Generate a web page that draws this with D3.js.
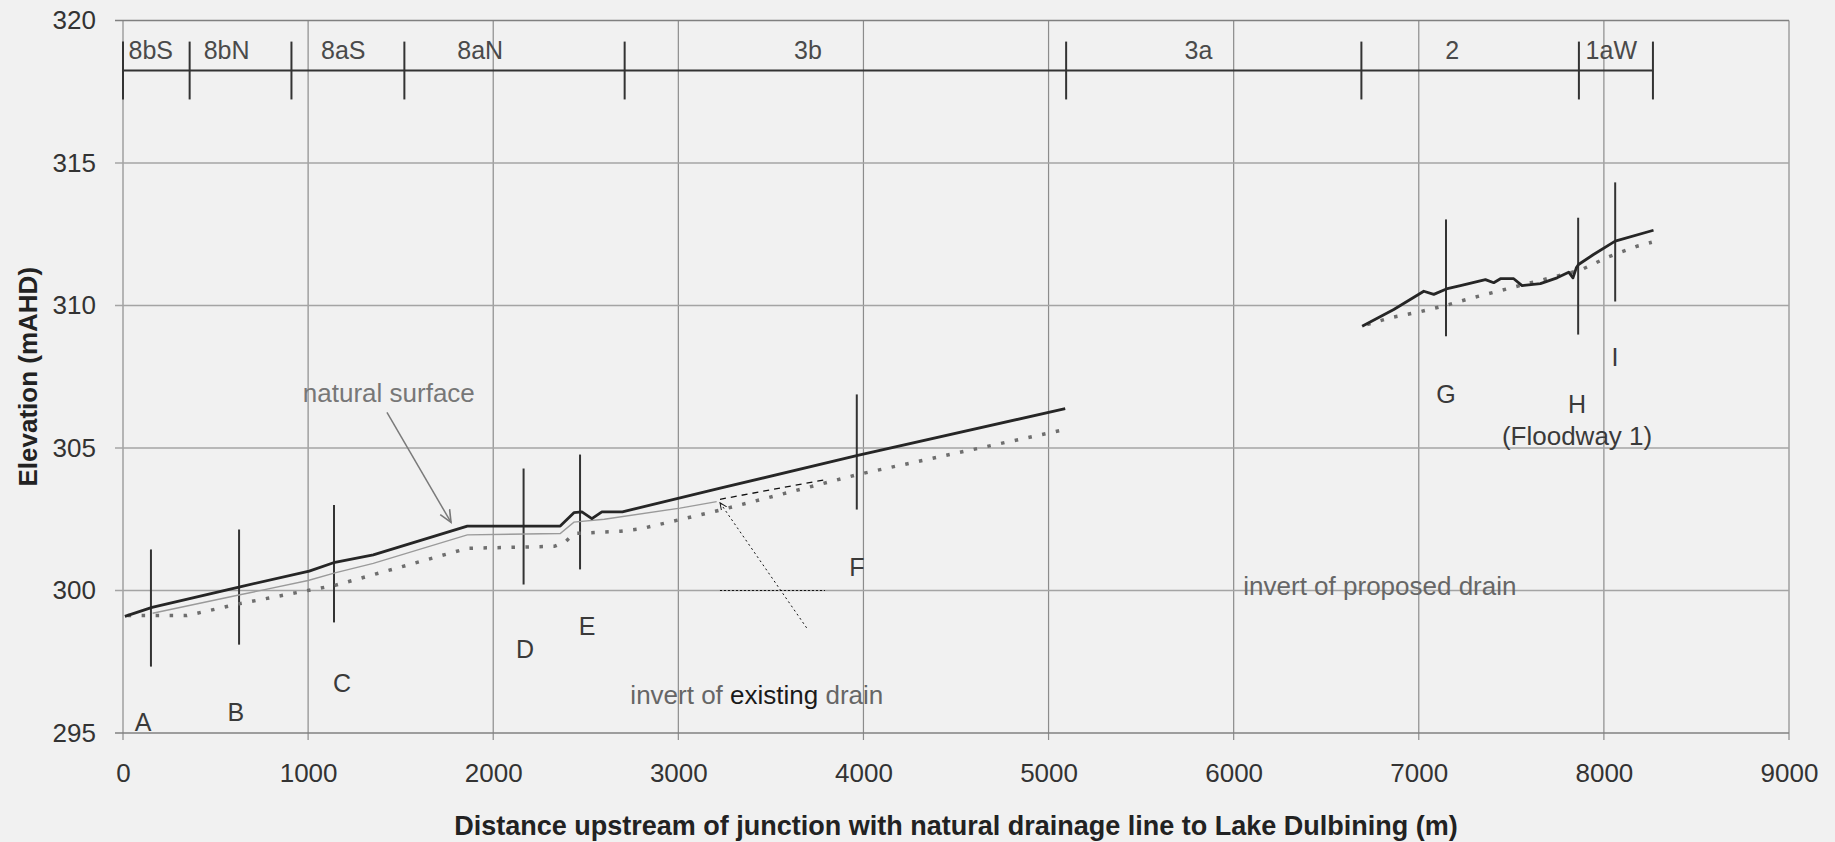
<!DOCTYPE html>
<html lang="en">
<head>
<meta charset="UTF-8">
<title>Drain long section</title>
<script src="https://d3js.org/d3.v7.min.js"></script>
<style>
  html, body { margin: 0; padding: 0; background: #f1f1f1; }
  svg { display: block; font-family: "Liberation Sans", Arial, sans-serif; }
</style>
</head>
<body>
<svg id="chart" width="1835" height="842"></svg>
<script>
const xTicks = [0, 1000, 2000, 3000, 4000, 5000, 6000, 7000, 8000, 9000];
const yTicks = [295, 300, 305, 310, 315, 320];

// drainage sections along the top bar
const sectionBounds = [0, 360, 910, 1520, 2710, 5095, 6690, 7865, 8265];
const sectionNames = ["8bS", "8bN", "8aS", "8aN", "3b", "3a", "2", "1aW"];
const sectionLabelX = [150, 560, 1190, 1930, 3700, 5810, 7180, 8040];

// top of bank / surface (solid), null breaks the line
const surface = [
  [10, 299.09], [157, 299.41], [632, 300.13], [1006, 300.68], [1145, 300.99],
  [1352, 301.25], [1860, 302.26], [2362, 302.26], [2436, 302.73], [2479, 302.76],
  [2533, 302.52], [2587, 302.76], [2698, 302.76], [3232, 303.6], [3969, 304.74],
  [5090, 306.38],
  [5900, null],
  [6694, 309.27], [6865, 309.86], [7027, 310.5], [7081, 310.39], [7149, 310.58],
  [7225, 310.7], [7360, 310.91], [7405, 310.8], [7441, 310.94], [7513, 310.94],
  [7558, 310.7], [7657, 310.77], [7747, 310.97], [7810, 311.17], [7833, 310.97],
  [7851, 311.32], [7863, 311.44], [7944, 311.79], [8061, 312.26], [8268, 312.64]
];

// natural surface (thin grey)
const natural = [
  [160, 299.2], [632, 299.85], [1000, 300.35], [1145, 300.62], [1352, 300.95],
  [1860, 301.95], [2362, 302.0], [2436, 302.4], [2600, 302.5], [3009, 302.89],
  [3207, 303.12]
];

// drain invert (dotted)
const invert = [
  [25, 299.12], [344, 299.12], [632, 299.54], [1006, 300.01], [1145, 300.18],
  [1476, 300.78], [1860, 301.48], [2330, 301.55], [2394, 301.73], [2437, 302.0],
  [2689, 302.08], [2794, 302.16], [3200, 302.78], [3969, 304.07], [5090, 305.65],
  [5900, null],
  [6721, 309.33], [6847, 309.57], [7000, 309.77], [7144, 310.0], [7279, 310.25],
  [7486, 310.6], [7873, 311.24], [8025, 311.71], [8179, 312.08], [8259, 312.22]
];

// cross-section markers
const markerNames = ["A", "B", "C", "D", "E", "F", "G", "H", "I"];
const markerX = [151, 627, 1140, 2164, 2469, 3964, 7147, 7861, 8061];
const markerTop = [301.44, 302.14, 303.0, 304.28, 304.77, 306.88, 313.02, 313.08, 314.32];
const markerBottom = [297.33, 298.1, 298.88, 300.21, 300.74, 302.84, 308.92, 308.98, 310.14];
const markerLabelX = [108, 610, 1183, 2172, 2507, 3964, 7147, 7855, 8060];
const markerLabelY = [295.4, 295.72, 296.77, 297.93, 298.74, 300.84, 306.91, 306.56, 308.21];

const svg = d3.select("#chart");
const W = 1835, H = 842;
const margin = { top: 20.5, right: 46, bottom: 109, left: 123 };

const x = d3.scaleLinear().domain([0, 9000]).range([margin.left, W - margin.right]);
const y = d3.scaleLinear().domain([295, 320]).range([H - margin.bottom, margin.top]);

svg.append("rect").attr("width", W).attr("height", H).attr("fill", "#f1f1f1");

// gridlines
const grid = svg.append("g");
grid.selectAll("line.v").data(xTicks).join("line")
  .attr("x1", d => x(d)).attr("x2", d => x(d))
  .attr("y1", y(320)).attr("y2", y(295) + 7)
  .attr("stroke", "#8c8c8c").attr("stroke-width", 1.2);
grid.selectAll("line.h").data(yTicks).join("line")
  .attr("x1", x(0) - 8).attr("x2", x(9000))
  .attr("y1", d => y(d)).attr("y2", d => y(d))
  .attr("stroke", d => (d === 295 || d === 320) ? "#808080" : "#a4a4a4")
  .attr("stroke-width", 1.3);

// axes labels
const yAxis = d3.axisLeft(y).tickValues(yTicks).tickSize(0).tickPadding(0);
svg.append("g").attr("transform", `translate(${x(0) - 27},0)`).call(yAxis)
  .call(g => g.select(".domain").remove())
  .selectAll("text").attr("font-size", 26).attr("fill", "#333")
  .attr("font-family", "Liberation Sans, Arial, sans-serif");

const xAxis = d3.axisBottom(x).tickValues(xTicks).tickSize(0).tickPadding(0).tickFormat(d3.format("d"));
svg.append("g").attr("transform", `translate(0,${y(295) + 31})`).call(xAxis)
  .call(g => g.select(".domain").remove())
  .selectAll("text").attr("font-size", 26).attr("fill", "#333")
  .attr("font-family", "Liberation Sans, Arial, sans-serif");

// axis titles
svg.append("text")
  .attr("transform", `translate(28,${(y(295) + y(320)) / 2}) rotate(-90)`)
  .attr("text-anchor", "middle").attr("dy", "0.36em")
  .attr("font-size", 26).attr("font-weight", "bold").attr("fill", "#222")
  .text("Elevation (mAHD)");
svg.append("text")
  .attr("x", (x(0) + x(9000)) / 2).attr("y", 835)
  .attr("text-anchor", "middle")
  .attr("font-size", 27).attr("font-weight", "bold").attr("fill", "#222")
  .text("Distance upstream of junction with natural drainage line to Lake Dulbining (m)");

// section bar at the top
const barY = 318.25;
const bar = svg.append("g").attr("stroke", "#333").attr("stroke-width", 2);
bar.append("line")
  .attr("x1", x(sectionBounds[0])).attr("x2", x(sectionBounds[sectionBounds.length - 1]))
  .attr("y1", y(barY)).attr("y2", y(barY));
bar.selectAll("line.tick").data(sectionBounds).join("line")
  .attr("x1", d => x(d)).attr("x2", d => x(d))
  .attr("y1", y(319.26)).attr("y2", y(317.23));
svg.append("g").selectAll("text").data(sectionNames).join("text")
  .attr("x", (d, i) => x(sectionLabelX[i]))
  .attr("y", y(318.95))
  .attr("dy", "0.36em")
  .attr("text-anchor", "middle")
  .attr("font-size", 25).attr("fill", "#4a4a4a")
  .text(d => d);

// marker verticals
svg.append("g").selectAll("line").data(markerNames).join("line")
  .attr("x1", (d, i) => x(markerX[i])).attr("x2", (d, i) => x(markerX[i]))
  .attr("y1", (d, i) => y(markerTop[i])).attr("y2", (d, i) => y(markerBottom[i]))
  .attr("stroke", "#333").attr("stroke-width", 2);

const line = d3.line()
  .defined(d => d[1] != null)
  .x(d => x(d[0])).y(d => y(d[1]));

svg.append("path").datum(natural).attr("d", line)
  .attr("fill", "none").attr("stroke", "#9a9a9a").attr("stroke-width", 1.4);

svg.append("path").datum(invert).attr("d", line)
  .attr("fill", "none").attr("stroke", "#6e6e6e").attr("stroke-width", 3.5)
  .attr("stroke-dasharray", "3.5,10.5");

svg.append("path").datum(surface).attr("d", line)
  .attr("fill", "none").attr("stroke", "#262626").attr("stroke-width", 2.8)
  .attr("stroke-linejoin", "round");

// annotation leaders
const defs = svg.append("defs");
defs.append("marker").attr("id", "headGrey").attr("viewBox", "0 0 10 10")
  .attr("refX", 9).attr("refY", 5).attr("markerWidth", 9).attr("markerHeight", 9)
  .attr("orient", "auto-start-reverse")
  .append("path").attr("d", "M0,1 L9,5 L0,9").attr("fill", "none")
  .attr("stroke", "#777").attr("stroke-width", 1.2);
defs.append("marker").attr("id", "headBlack").attr("viewBox", "0 0 10 10")
  .attr("refX", 9).attr("refY", 5).attr("markerWidth", 8).attr("markerHeight", 8)
  .attr("orient", "auto-start-reverse")
  .append("path").attr("d", "M0,1 L9,5 L0,9").attr("fill", "none")
  .attr("stroke", "#111").attr("stroke-width", 1.2);

svg.append("line")
  .attr("x1", x(1426)).attr("y1", y(306.25)).attr("x2", x(1772)).attr("y2", y(302.39))
  .attr("stroke", "#7a7a7a").attr("stroke-width", 1.5)
  .attr("marker-end", "url(#headGrey)");

svg.append("line")
  .attr("x1", x(3693)).attr("y1", y(298.69)).attr("x2", x(3225)).attr("y2", y(303.08))
  .attr("stroke", "#111").attr("stroke-width", 1).attr("stroke-dasharray", "2,3")
  .attr("marker-end", "url(#headBlack)");
svg.append("line")
  .attr("x1", x(3225)).attr("y1", y(300)).attr("x2", x(3792)).attr("y2", y(300))
  .attr("stroke", "#111").attr("stroke-width", 1).attr("stroke-dasharray", "2,2");
svg.append("line")
  .attr("x1", x(3225)).attr("y1", y(303.2)).attr("x2", x(3802)).attr("y2", y(303.9))
  .attr("stroke", "#111").attr("stroke-width", 1.3).attr("stroke-dasharray", "6,5");

// marker letters
svg.append("g").selectAll("text").data(markerNames).join("text")
  .attr("x", (d, i) => x(markerLabelX[i]))
  .attr("y", (d, i) => y(markerLabelY[i]))
  .attr("dy", "0.36em").attr("text-anchor", "middle")
  .attr("font-size", 25).attr("fill", "#3a3a3a")
  .text(d => d);
svg.append("text")
  .attr("x", x(7855)).attr("y", y(305.44)).attr("dy", "0.36em")
  .attr("text-anchor", "middle").attr("font-size", 26).attr("fill", "#3a3a3a")
  .text("(Floodway 1)");

// text annotations
svg.append("text")
  .attr("x", x(1436)).attr("y", y(306.95)).attr("dy", "0.36em")
  .attr("text-anchor", "middle").attr("font-size", 26).attr("fill", "#777")
  .text("natural surface");

const existing = svg.append("text")
  .attr("x", x(3424)).attr("y", y(296.35)).attr("dy", "0.36em")
  .attr("text-anchor", "middle").attr("font-size", 26).attr("fill", "#666");
existing.append("tspan").text("invert of ");
existing.append("tspan").attr("fill", "#1a1a1a").text("existing");
existing.append("tspan").text(" drain");

svg.append("text")
  .attr("x", x(6790)).attr("y", y(300.18)).attr("dy", "0.36em")
  .attr("text-anchor", "middle").attr("font-size", 26).attr("fill", "#666")
  .text("invert of proposed drain");
</script>
</body>
</html>
